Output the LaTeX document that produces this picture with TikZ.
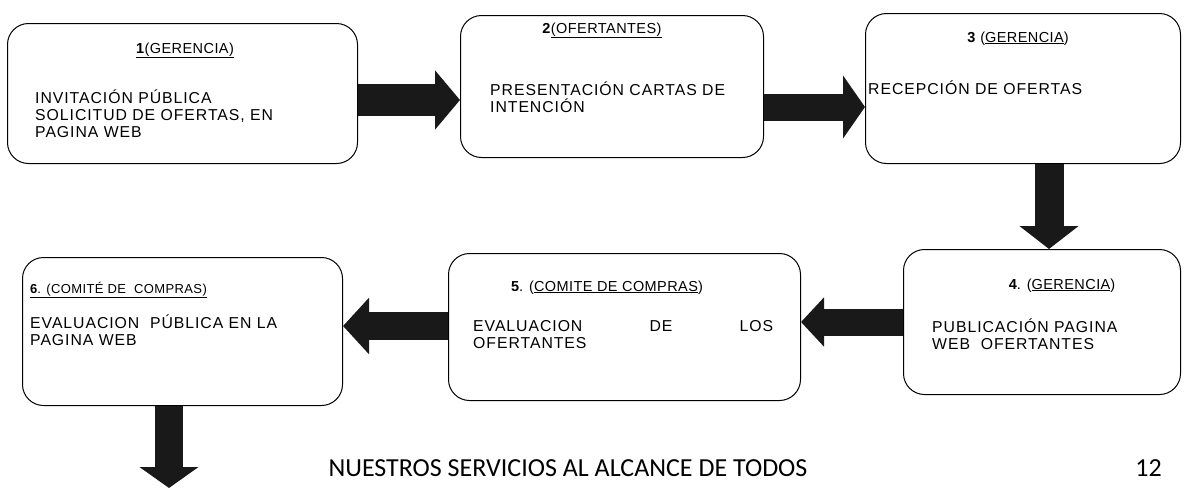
\documentclass[tikz,border=0pt]{standalone}
\usepackage{fontspec}
\setmainfont{Liberation Sans}
\newfontfamily\bodyfont[LetterSpace=6]{Liberation Sans}
\newfontfamily\ttlfont[LetterSpace=3]{Liberation Sans}
\newfontfamily\footfont{Carlito}
\usetikzlibrary{arrows.meta}
\begin{document}
\begin{tikzpicture}[x=1pt,y=-1pt,
  box/.style={draw=black, line width=1pt, rounded corners=21pt, inner sep=0pt, anchor=north west},
  ttl/.style={font=\ttlfont\fontsize{14.5}{17}\selectfont, inner sep=0pt, anchor=base},
  txt/.style={font=\bodyfont\fontsize{15.8}{17}\selectfont, inner sep=0pt, anchor=base west, align=left},
  arr/.style={draw=black!90, line width=28pt, -{Triangle[length=23pt,width=56pt]}},
  foot/.style={font=\footfont\fontsize{26}{30}\selectfont, inner sep=0pt, anchor=base}]
\useasboundingbox (0,0) rectangle (1184,488);
\fill[white] (0,0) rectangle (1184,488);
% boxes
\node[box, minimum width=350pt, minimum height=140pt] (b1) at (7,23) {};
\node[box, minimum width=303pt, minimum height=142pt] (b2) at (460,15) {};
\node[box, minimum width=315pt, minimum height=150pt] (b3) at (865,13) {};
\node[box, minimum width=277pt, minimum height=145pt] (b4) at (903,249) {};
\node[box, minimum width=352pt, minimum height=147pt] (b5) at (448,253) {};
\node[box, minimum width=320pt, minimum height=148pt] (b6) at (22,257) {};
% titles
\node[ttl] (t1) at (185,53) {\underline{\textbf{1}(GERENCIA)}};
\node[ttl] (t2) at (602,33) {\textbf{2}\underline{(OFERTANTES)}};
\node[ttl] (t3) at (1018,42) {\textbf{3} (\underline{GERENCIA})};
\node[ttl] (t4) at (1062,289) {\textbf{4}. (\underline{GERENCIA})};
\node[ttl] (t5) at (607,291) {\textbf{5}. (\underline{COMITE DE COMPRAS})};
\node[ttl, anchor=base west, font=\ttlfont\fontsize{13}{15}\selectfont] (t6) at (30,293) {\underline{\textbf{6}. (COMITÉ DE\ \ COMPRAS)}};
% bodies (anchor = baseline of the last line)
\node[txt] (d1) at (35,137) {INVITACIÓN PÚBLICA\\SOLICITUD DE OFERTAS, EN\\PAGINA WEB};
\node[txt] (d2) at (490,112) {PRESENTACIÓN CARTAS DE\\INTENCIÓN};
\node[txt] (d3) at (868,94) {RECEPCIÓN DE OFERTAS};
\node[txt] (d4) at (932,349) {PUBLICACIÓN PAGINA\\WEB\ \ OFERTANTES};
\node[txt, text width=300pt] (d5) at (473,331) {EVALUACION\hfill DE\hfill LOS\\OFERTANTES};
\node[txt] (d6) at (30,345) {EVALUACION\ \ PÚBLICA EN LA\\PAGINA WEB};
% arrows
\coordinate (e6) at (169,488);
\draw[arr, line width=32pt, -{Triangle[length=25pt,width=58pt]}] (b1.east |- 0,100) -- (b2.west |- 0,100);
\draw[arr, line width=27pt, -{Triangle[length=22pt,width=62pt]}] (b2.east |- 0,107) -- (b3.west |- 0,107);
\draw[arr, line width=29pt, -{Triangle[length=23pt,width=58pt]}] (b3.south -| 1049,0) -- (b4.north -| 1049,0);
\draw[arr, line width=27pt, -{Triangle[length=23pt,width=48pt]}] (b4.west |- 0,322) -- (b5.east |- 0,322);
\draw[arr, line width=28pt, -{Triangle[length=26pt,width=55pt]}] (b5.west |- 0,326) -- (b6.east |- 0,326);
\draw[arr, line width=28pt, -{Triangle[length=21pt,width=58pt]}] (b6.south -| e6) -- (e6);
% footer
\node[foot] (f1) at (568,476) {NUESTROS SERVICIOS AL ALCANCE DE TODOS};
\node[foot, anchor=base east] (f2) at (1162,476) {12};
\end{tikzpicture}
\end{document}
